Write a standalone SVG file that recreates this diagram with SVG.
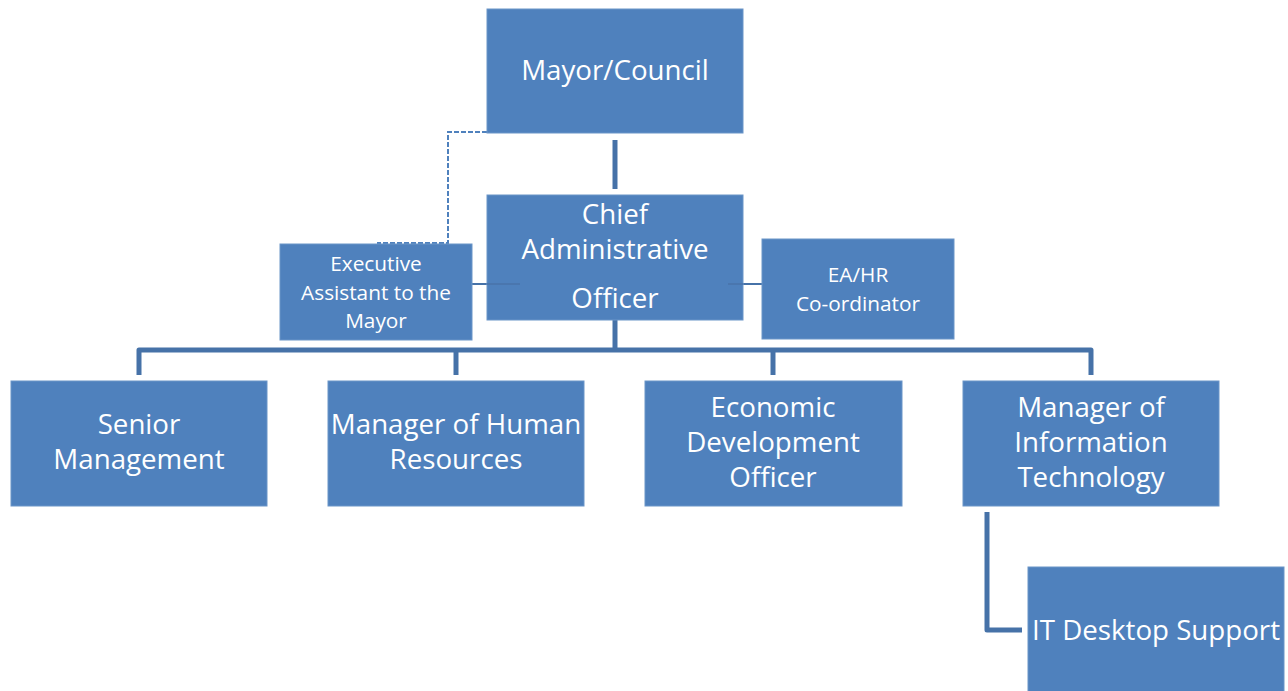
<svg xmlns="http://www.w3.org/2000/svg" width="1288" height="691" viewBox="0 0 1288 691">
  <style>
    .box { fill: #4F81BD; stroke: #6B95C8; stroke-width: 1; }
    .lbl { font-family: "Open Sans", "Liberation Sans", sans-serif; fill: #FFFFFF; text-anchor: middle; }
    .big { font-size: 27.7px; }
    .small { font-size: 20.8px; }
    .bus { fill: none; stroke: #4672A8; stroke-width: 5; stroke-linejoin: round; }
    .thin { fill: none; stroke: #4672A8; stroke-width: 2; }
    .dash { fill: none; stroke: #4F81BD; stroke-width: 2; stroke-dasharray: 5 2; }
  </style>
  <rect width="1288" height="691" fill="#FFFFFF"/>

  <!-- connectors -->
  <g id="connectors">
    <path class="dash" d="M487 132 H448 V243 H377"/>
    <path class="bus" d="M615 140 V189"/>
    <path class="bus" d="M615 320 V350"/>
    <path class="bus" d="M139 375 V350 H1091 V375"/>
    <path class="bus" d="M456 350 V375"/>
    <path class="bus" d="M773 350 V375"/>
    <path class="bus" d="M987 512 V630 H1022"/>
    <path class="thin" d="M472 284 H487"/>
    <path class="thin" d="M743 284 H762"/>
  </g>

  <g id="mayor">
    <rect class="box" x="487" y="9" width="256" height="124"/>
    <text class="lbl big" x="615" y="80">Mayor/Council</text>
  </g>

  <g id="cao">
    <rect class="box" x="487" y="195" width="256" height="125"/>
    <path d="M487 284 H520 M728 284 H743" stroke="#4A76AE" stroke-width="2"/>
    <text class="lbl big" x="615" y="224">Chief</text>
    <text class="lbl big" x="615" y="259">Administrative</text>
    <text class="lbl big" x="615" y="308">Officer</text>
  </g>

  <g id="exec-assistant">
    <rect class="box" x="280" y="244" width="192" height="96"/>
    <text class="lbl small" x="376" y="271">Executive</text>
    <text class="lbl small" x="376" y="300">Assistant to the</text>
    <text class="lbl small" x="376" y="328">Mayor</text>
  </g>

  <g id="ea-hr">
    <rect class="box" x="762" y="239" width="192" height="100"/>
    <text class="lbl small" x="858" y="282">EA/HR</text>
    <text class="lbl small" x="858" y="311">Co-ordinator</text>
  </g>

  <g id="senior-management">
    <rect class="box" x="11" y="381" width="256" height="125"/>
    <text class="lbl big" x="139" y="434">Senior</text>
    <text class="lbl big" x="139" y="469">Management</text>
  </g>

  <g id="manager-hr">
    <rect class="box" x="328" y="381" width="256" height="125"/>
    <text class="lbl big" x="456" y="434">Manager of Human</text>
    <text class="lbl big" x="456" y="469">Resources</text>
  </g>

  <g id="economic-development">
    <rect class="box" x="645" y="381" width="257" height="125"/>
    <text class="lbl big" x="773" y="417">Economic</text>
    <text class="lbl big" x="773" y="452">Development</text>
    <text class="lbl big" x="773" y="487">Officer</text>
  </g>

  <g id="manager-it">
    <rect class="box" x="963" y="381" width="256" height="125"/>
    <text class="lbl big" x="1091" y="417">Manager of</text>
    <text class="lbl big" x="1091" y="452">Information</text>
    <text class="lbl big" x="1091" y="487">Technology</text>
  </g>

  <g id="it-desktop-support">
    <rect class="box" x="1028" y="567" width="256" height="130"/>
    <text class="lbl big" x="1156" y="640">IT Desktop Support</text>
  </g>
</svg>
